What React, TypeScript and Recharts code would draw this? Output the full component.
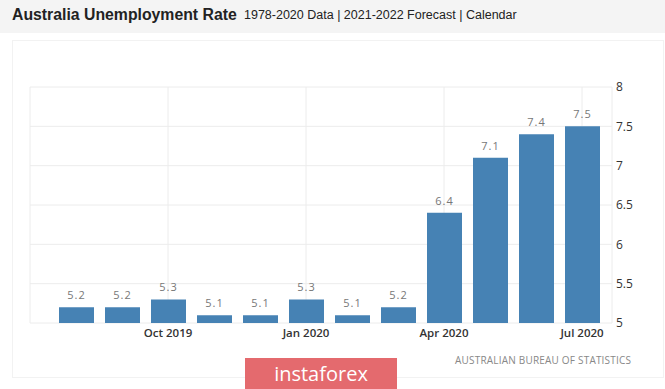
import React from 'react';
import { BarChart, Bar, XAxis, YAxis, CartesianGrid, LabelList } from 'recharts';

const categories = ['Aug 2019', 'Sep 2019', 'Oct 2019', 'Nov 2019', 'Dec 2019', 'Jan 2020', 'Feb 2020', 'Mar 2020', 'Apr 2020', 'May 2020', 'Jun 2020', 'Jul 2020'];
const rates = [5.2, 5.2, 5.3, 5.1, 5.1, 5.3, 5.1, 5.2, 6.4, 7.1, 7.4, 7.5];
const xTicks = ['Oct 2019', 'Jan 2020', 'Apr 2020', 'Jul 2020'];
const yTicks = [5, 5.5, 6, 6.5, 7, 7.5, 8];

const data = categories.map((c, i) => ({ month: c, rate: rates[i] }));

export default function App() {
  return (
    <div style={{ position: 'absolute', left: 0, top: 0, width: 665, height: 389, background: '#ffffff', fontFamily: 'Arial, "Liberation Sans", sans-serif', overflow: 'hidden' }}>
      <div style={{ position: 'absolute', left: 0, top: 0, width: 665, height: 33, background: '#f4f4f4' }} />
      <div style={{ position: 'absolute', left: 12, top: 6, fontSize: 15.8, fontWeight: 'bold', color: '#222', whiteSpace: 'nowrap' }}>Australia Unemployment Rate</div>
      <div style={{ position: 'absolute', left: 244, top: 8, fontSize: 12.5, color: '#222', whiteSpace: 'nowrap' }}>1978-2020 Data | 2021-2022 Forecast | Calendar</div>
      <div style={{ position: 'absolute', left: 12, top: 40, width: 652, height: 338, border: '1px solid #f2f2f2', boxSizing: 'border-box' }} />
      <div style={{ position: 'absolute', left: 0, top: 0 }}>
        <BarChart width={665} height={389} data={data} margin={{ top: 87, right: 20, bottom: 36, left: 30 }}>
          <CartesianGrid stroke="#ececec" vertical={true} horizontal={true} />
          <XAxis dataKey="month" ticks={xTicks} interval={0} tickLine={false} axisLine={false} padding={{ left: 23, right: 7 }}
            tick={{ fontSize: 11.5, fill: '#333', fontFamily: '"Open Sans", sans-serif', fontWeight: 600 }} tickMargin={0} />
          <YAxis orientation="right" domain={[5, 8]} ticks={yTicks} width={33} tickLine={false} axisLine={false}
            tick={{ fontSize: 12, fill: '#333', fontFamily: '"Open Sans", sans-serif', textAnchor: 'start' }} dx={-4} />
          <Bar dataKey="rate" fill="#4682b4" barSize={35} isAnimationActive={false}>
            <LabelList dataKey="rate" position="top" offset={8} style={{ fontSize: 11, fill: '#777', fontFamily: '"Open Sans", sans-serif', letterSpacing: 1 }} />
          </Bar>
        </BarChart>
      </div>
      <div style={{ position: 'absolute', left: 455, top: 353, fontSize: 10, color: '#888', letterSpacing: 0.2, fontFamily: '"Open Sans", sans-serif', whiteSpace: 'nowrap' }}>AUSTRALIAN BUREAU OF STATISTICS</div>
      <div style={{ position: 'absolute', left: 245, top: 358, width: 152, height: 31, background: '#e46a6e', color: '#fff', fontSize: 20, textAlign: 'center', lineHeight: '31px', fontFamily: '"Open Sans", sans-serif' }}>instaforex</div>
    </div>
  );
}
